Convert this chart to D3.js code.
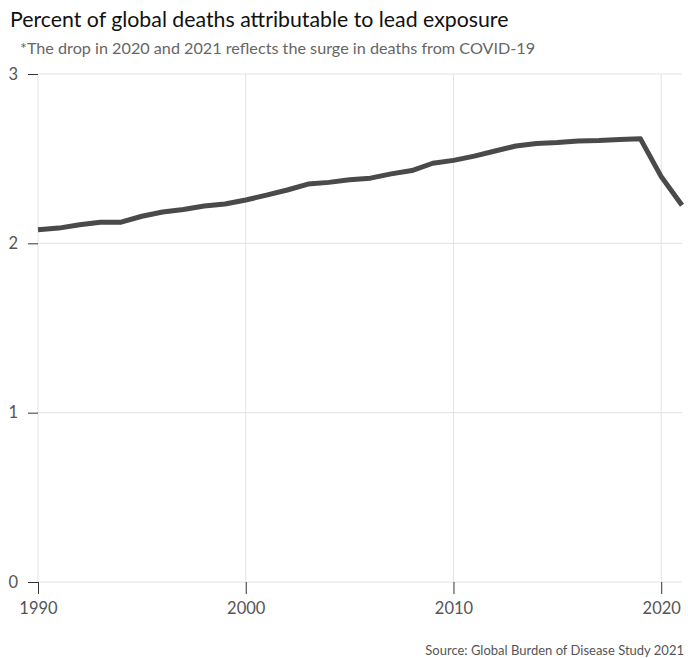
<!DOCTYPE html>
<html><head><meta charset="utf-8">
<script src="https://cdn.jsdelivr.net/npm/d3@7"></script>
<style>body{margin:0;background:#fff;font-family:Lato,"Noto Sans",sans-serif;}</style>
</head><body><svg id="c" width="688" height="658"></svg>
<script>
const years = d3.range(1990, 2022);
const values = [2.08,2.09,2.11,2.125,2.125,2.16,2.185,2.20,2.22,2.232,2.256,2.285,2.315,2.35,2.36,2.375,2.385,2.41,2.43,2.473,2.49,2.515,2.545,2.575,2.59,2.595,2.605,2.607,2.613,2.617,2.394,2.225];
const xTicks = [1990,2000,2010,2020];
const yTicks = [0,1,2,3];
const title = "Percent of global deaths attributable to lead exposure";
const subtitle = "*The drop in 2020 and 2021 reflects the surge in deaths from COVID-19";
const source = "Source: Global Burden of Disease Study 2021";

const svg = d3.select("#c");
const x = d3.scaleLinear().domain([1990,2021]).range([38,682]);
const y = d3.scaleLinear().domain([0,3]).range([582,74]);

svg.append("text").attr("x",10).attr("y",27).attr("font-size",21.3).attr("fill","#111").text(title);
svg.append("text").attr("x",20).attr("y",54).attr("font-size",16.2).attr("fill","#666").text(subtitle);

// gridlines
svg.append("g").selectAll("line").data(yTicks).join("line")
  .attr("x1",38).attr("x2",682).attr("y1",d=>y(d)).attr("y2",d=>y(d))
  .attr("stroke","#e3e3e3").attr("stroke-width",1);
svg.append("g").selectAll("line").data(xTicks).join("line")
  .attr("x1",d=>x(d)).attr("x2",d=>x(d)).attr("y1",74).attr("y2",582)
  .attr("stroke","#e3e3e3").attr("stroke-width",1);

// axes
const xa = svg.append("g").attr("transform","translate(0,582)")
  .call(d3.axisBottom(x).tickValues(xTicks).tickFormat(d3.format("d")).tickSize(12).tickPadding(8));
xa.select(".domain").remove();
xa.selectAll("line").attr("stroke","#333");
xa.selectAll("text").attr("font-size",16.5).attr("fill","#555").attr("font-family","Lato,sans-serif");

const ya = svg.append("g").attr("transform","translate(38,0)")
  .call(d3.axisLeft(y).tickValues(yTicks).tickFormat(d3.format("d")).tickSize(10).tickPadding(10));
ya.select(".domain").remove();
ya.selectAll("line").attr("stroke","#333");
ya.selectAll("text").attr("font-size",16.5).attr("fill","#555").attr("font-family","Lato,sans-serif");

svg.append("path").datum(years.map((yr,i)=>[yr,values[i]]))
  .attr("fill","none").attr("stroke","#4a4a4a").attr("stroke-width",5)
  .attr("stroke-linejoin","round")
  .attr("d", d3.line().x(d=>x(d[0])).y(d=>y(d[1])));

svg.append("text").attr("x",684).attr("y",655).attr("text-anchor","end")
  .attr("font-size",13).attr("fill","#555").text(source);
</script></body></html>
